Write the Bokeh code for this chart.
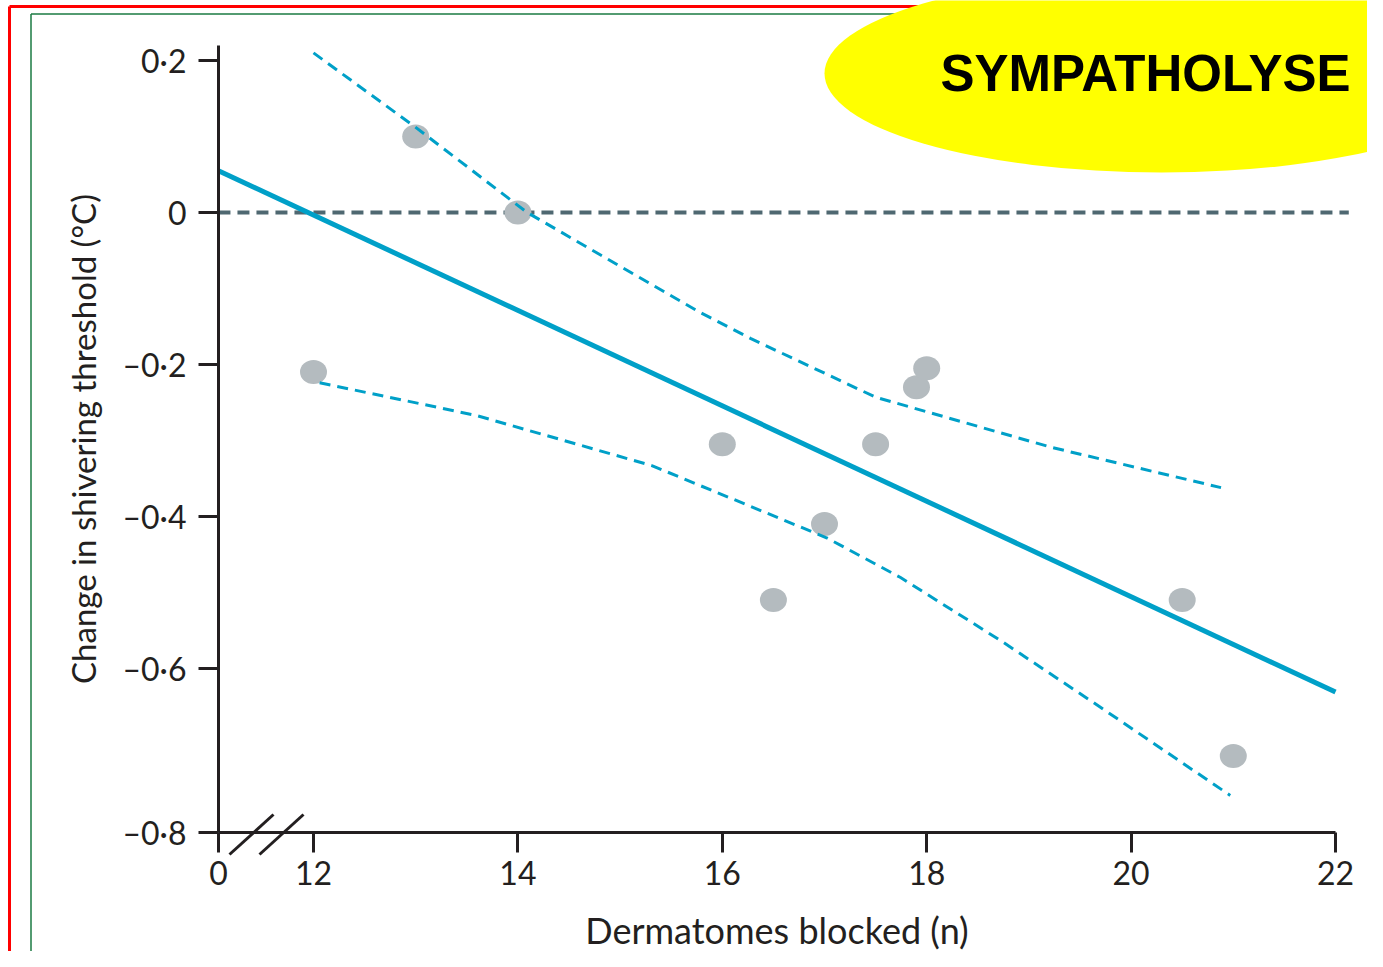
from bokeh.plotting import figure
from bokeh.models import Range1d, LinearAxis, FixedTicker, CustomJSTickFormatter
from bokeh.core.properties import value
from bokeh.embed import file_html
from bokeh.resources import INLINE

# ---------------- data ----------------
dermatomes = [12.0, 13.0, 14.0, 16.0, 16.5, 17.0, 17.5, 17.9, 18.0, 20.5, 21.0]
threshold_change = [-0.21, 0.10, 0.0, -0.305, -0.51, -0.41, -0.305, -0.23, -0.205, -0.51, -0.715]

reg_x = [11.07, 22.0]
reg_y = [0.055, -0.631]

ci_upper_x = [12.0, 13.0, 14.09, 15.79, 16.28, 17.5, 19.22, 20.88]
ci_upper_y = [0.21, 0.112, 0.0, -0.132, -0.166, -0.243, -0.309, -0.362]

ci_lower_x = [12.06, 13.59, 15.31, 17.02, 17.74, 18.72, 19.70, 20.97]
ci_lower_y = [-0.224, -0.267, -0.333, -0.428, -0.480, -0.563, -0.651, -0.767]

x_ticks = [11.07, 12, 14, 16, 18, 20, 22]
x_tick_labels = ["0", "12", "14", "16", "18", "20", "22"]
y_ticks = [0.2, 0.0, -0.2, -0.4, -0.6, -0.816]
y_tick_labels = ["0·2", "0", "–0·2", "–0·4", "–0·6", "–0·8"]

x_axis_start, x_axis_end = 11.07, 22.0
y_axis_start, y_axis_end = -0.816, 0.22
zero_line_x = [11.07, 22.13]

# ---------------- layout helpers (canvas pixel -> data) ----------------
W, H = 1367, 951
def dx(px):
    return 12 + (px - 313) / 102.2
def dy(py):
    return (212 - py) / 760.0

p = figure(width=W, height=H, output_backend="svg", toolbar_location=None,
           x_range=Range1d(dx(0), dx(W)), y_range=Range1d(dy(H), dy(0)),
           x_axis_type=None, y_axis_type=None, min_border=0,
           background_fill_color="white", border_fill_color="white")
p.outline_line_color = None

# decorative frame lines (red / green)
p.segment(x0=[dx(9), dx(9)], y0=[dy(6), dy(6)], x1=[dx(9), dx(1400)], y1=[dy(1000), dy(6)],
          line_color="#ff0000", line_width=3, level="underlay")
p.segment(x0=[dx(30.5), dx(30.5)], y0=[dy(13.5), dy(13.5)], x1=[dx(30.5), dx(1400)], y1=[dy(1000), dy(13.5)],
          line_color="#1a7a42", line_width=1.5, level="underlay")

# yellow ellipse + label
p.ellipse(x=[dx(1161)], y=[dy(73)], width=674, height=198, width_units="screen", height_units="screen",
          fill_color="#ffff00", line_color=None)
p.text(x=[dx(940)], y=[dy(73)], text=["SYMPATHOLYSE"], text_font=value("Liberation Sans"),
       text_font_style="bold", text_font_size="51px", text_color="black",
       text_align="left", text_baseline="alphabetic")

# zero reference line
p.line(zero_line_x, [0, 0], line_color="#4f6871", line_width=4, line_dash="12 7")

# data points
p.ellipse(x=dermatomes, y=threshold_change, width=27, height=24, width_units="screen",
          height_units="screen", fill_color="#b4bbbf", line_color=None)

# confidence bands
p.line(ci_upper_x, ci_upper_y, line_color="#00a0c8", line_width=3, line_dash="11 7")
p.line(ci_lower_x, ci_lower_y, line_color="#00a0c8", line_width=3, line_dash="11 7")

# regression line
p.line(reg_x, reg_y, line_color="#00a0c8", line_width=5)

# axis break marks
p.segment(x0=[dx(229), dx(259)], y0=[dy(854), dy(854)], x1=[dx(273), dx(303)], y1=[dy(814), dy(814)],
          line_color="#231f20", line_width=3)

def make_formatter(ticks, labels):
    return CustomJSTickFormatter(args=dict(t=ticks, l=labels), code="""
        let best = 0;
        for (let i = 0; i < t.length; i++) {
            if (Math.abs(t[i] - tick) < Math.abs(t[best] - tick)) best = i;
        }
        return l[best];
    """)

axis_color = "#231f20"
font = "Lato"

yaxis = LinearAxis(fixed_location=x_axis_start, bounds=(y_axis_start, y_axis_end),
                   ticker=FixedTicker(ticks=y_ticks), formatter=make_formatter(y_ticks, y_tick_labels),
                   axis_label="Change in shivering threshold (°C)")
xaxis = LinearAxis(fixed_location=y_axis_start, bounds=(x_axis_start, x_axis_end),
                   ticker=FixedTicker(ticks=x_ticks), formatter=make_formatter(x_ticks, x_tick_labels),
                   axis_label="Dermatomes blocked (n)")
for ax in (xaxis, yaxis):
    ax.axis_line_color = axis_color
    ax.axis_line_width = 3
    ax.major_tick_line_color = axis_color
    ax.major_tick_line_width = 3
    ax.major_tick_in = 0
    ax.major_tick_out = 20
    ax.minor_tick_line_color = None
    ax.major_label_text_font = font
    ax.major_label_text_font_size = "32px"
    ax.major_label_text_color = axis_color
    ax.axis_label_text_font = font
    ax.axis_label_text_font_style = "normal"
    ax.axis_label_text_color = axis_color
yaxis.axis_label_text_font_size = "33px"
xaxis.axis_label_text_font_size = "36px"
yaxis.major_label_standoff = 12
yaxis.axis_label_standoff = 16
xaxis.major_label_standoff = 8
xaxis.axis_label_standoff = 20
p.add_layout(yaxis, "left")
p.add_layout(xaxis, "below")

open("out.html", "w").write(file_html(p, INLINE))
